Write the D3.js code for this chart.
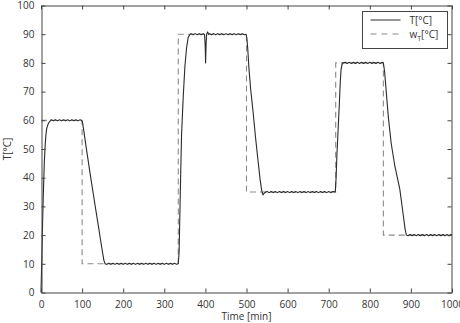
<!DOCTYPE html>
<html>
<head>
<meta charset="utf-8">
<script src="https://cdn.jsdelivr.net/npm/d3@7"></script>
<style>
  body { margin: 0; background: #fff; }
  svg { font-family: "Open Sans", "DejaVu Sans", sans-serif; }
</style>
</head>
<body>
<div id="chart"></div>
<script>
// x ticks / y ticks
var xTicks = [0, 100, 200, 300, 400, 500, 600, 700, 800, 900, 1000];
var yTicks = [0, 10, 20, 30, 40, 50, 60, 70, 80, 90, 100];

// measured temperature T [°C], [time, value]
var tempT = [
  [0, 0], [2, 12], [4, 25], [6, 36], [8, 45], [10, 51], [12, 55], [14, 57.2], [17, 58.6], [20, 59.4], [23, 59.9],
  [25, 60.2], [30, 59.8], [35, 60.2], [40, 59.8], [45, 60.2], [50, 59.8], [55, 60.2], [60, 59.8], [65, 60.2],
  [70, 59.8], [75, 60.2], [80, 59.8], [85, 60.2], [90, 59.8], [95, 60.2], [99, 59.9],
  [101, 59.3], [104, 56.5], [110, 50.5], [120, 41], [130, 31.8], [140, 22.8], [148, 15.5], [153, 11.2], [156, 10],
  [160, 9.8], [165, 10.2], [170, 9.8], [175, 10.2], [180, 9.8], [185, 10.2], [190, 9.8], [195, 10.2], [200, 9.8],
  [205, 10.2], [210, 9.8], [215, 10.2], [220, 9.8], [225, 10.2], [230, 9.8], [235, 10.2], [240, 9.8], [245, 10.2],
  [250, 9.8], [255, 10.2], [260, 9.8], [265, 10.2], [270, 9.8], [275, 10.2], [280, 9.8], [285, 10.2], [290, 9.8],
  [295, 10.2], [300, 9.8], [305, 10.2], [310, 9.8], [315, 10.2], [320, 9.8], [325, 10.2], [330, 9.8], [334, 10.1],
  [336, 14], [338, 28], [340, 42], [342, 55], [346, 68], [350, 78.5], [354, 85], [358, 88.8], [362, 89.8],
  [365, 90.2], [370, 89.8], [375, 90.2], [380, 89.8], [385, 90.2], [390, 89.8], [395, 90.2], [398, 89.8],
  [399.5, 86], [400.5, 80], [401.8, 87], [403, 90], [405.5, 90.8], [408, 90],
  [410, 90.2], [415, 89.8], [420, 90.2], [425, 89.8], [430, 90.2], [435, 89.8], [440, 90.2], [445, 89.8],
  [450, 90.2], [455, 89.8], [460, 90.2], [465, 89.8], [470, 90.2], [475, 89.8], [480, 90.2], [485, 89.8],
  [490, 90.2], [495, 89.8], [499, 90],
  [501, 88.5], [503, 85], [506, 78], [510, 71], [516, 63], [522, 54], [528, 46], [533, 39.5], [537, 35.5],
  [540, 34], [543, 34.6], [547, 35],
  [550, 35.2], [555, 34.8], [560, 35.2], [565, 34.8], [570, 35.2], [575, 34.8], [580, 35.2], [585, 34.8],
  [590, 35.2], [595, 34.8], [600, 35.2], [605, 34.8], [610, 35.2], [615, 34.8], [620, 35.2], [625, 34.8],
  [630, 35.2], [635, 34.8], [640, 35.2], [645, 34.8], [650, 35.2], [655, 34.8], [660, 35.2], [665, 34.8],
  [670, 35.2], [675, 34.8], [680, 35.2], [685, 34.8], [690, 35.2], [695, 34.8], [700, 35.2], [705, 34.8],
  [710, 35.2], [716, 35],
  [718, 40], [720, 48], [722, 54], [724, 60], [726, 66], [728, 73], [730, 77.5], [732, 79.3], [735, 80],
  [740, 80.2], [745, 79.8], [750, 80.2], [755, 79.8], [760, 80.2], [765, 79.8], [770, 80.2], [775, 79.8],
  [780, 80.2], [785, 79.8], [790, 80.2], [795, 79.8], [800, 80.2], [805, 79.8], [810, 80.2], [815, 79.8],
  [820, 80.2], [825, 79.8], [830, 80.2], [833, 80],
  [836, 77], [840, 70], [845, 61.3], [852, 52], [861, 44], [867, 40], [873, 36], [880, 28.5], [886, 22], [889, 20],
  [893, 19.8], [898, 20.2], [903, 19.8], [908, 20.2], [913, 19.8], [918, 20.2], [923, 19.8], [928, 20.2],
  [933, 19.8], [938, 20.2], [943, 19.8], [948, 20.2], [953, 19.8], [958, 20.2], [963, 19.8], [968, 20.2],
  [973, 19.8], [978, 20.2], [983, 19.8], [988, 20.2], [993, 19.8], [998, 20.2], [1000, 20]
];

// set point w_T [°C]
var setW = [
  [0, 60], [100, 60], [100, 10], [334, 10], [334, 90], [500, 90], [500, 35],
  [717, 35], [717, 80], [833, 80], [833, 20], [1000, 20]
];

var width = 460, height = 323;
var margin = { top: 5, right: 8, bottom: 30, left: 41 };
var axisColor = "#444";
var textColor = "#333";

var svg = d3.select("#chart").append("svg")
  .attr("width", width)
  .attr("height", height);

var x = d3.scaleLinear().domain([0, 1000]).range([margin.left, width - margin.right]);
var y = d3.scaleLinear().domain([0, 100]).range([height - margin.bottom - 0.5, margin.top + 0.5]);

var line = d3.line()
  .x(function (d) { return x(d[0]); })
  .y(function (d) { return y(d[1]); });

// dashed set point
svg.append("path")
  .datum(setW)
  .attr("fill", "none")
  .attr("stroke", "#8a8a8a")
  .attr("stroke-width", 1.1)
  .attr("stroke-dasharray", "6,4")
  .attr("d", line);

// measured
svg.append("path")
  .datum(tempT)
  .attr("fill", "none")
  .attr("stroke", "#2a2a2a")
  .attr("stroke-width", 1.1)
  .attr("stroke-linejoin", "round")
  .attr("d", line);

// axes: ticks inside on all four sides
var tickLen = 4;
var noLabel = function () { return ""; };
var axBottom = d3.axisBottom(x).tickValues(xTicks).tickSizeInner(-tickLen).tickSizeOuter(0).tickPadding(8).tickFormat(d3.format("d"));
var axTop = d3.axisTop(x).tickValues(xTicks).tickSizeInner(-tickLen).tickSizeOuter(0).tickFormat(noLabel);
var axLeft = d3.axisLeft(y).tickValues(yTicks).tickSizeInner(-tickLen).tickSizeOuter(0).tickPadding(7).tickFormat(d3.format("d"));
var axRight = d3.axisRight(y).tickValues(yTicks).tickSizeInner(-tickLen).tickSizeOuter(0).tickFormat(noLabel);

var plotBottom = height - margin.bottom;
var gb = svg.append("g").attr("transform", "translate(0," + (plotBottom - 0.5) + ")").call(axBottom);
var gt = svg.append("g").attr("transform", "translate(0," + (margin.top + 0.5) + ")").call(axTop);
var gl = svg.append("g").attr("transform", "translate(" + (margin.left + 0.5) + ",0)").call(axLeft);
var gr = svg.append("g").attr("transform", "translate(" + (width - margin.right - 0.5) + ",0)").call(axRight);

[gb, gt, gl, gr].forEach(function (g) {
  g.selectAll(".domain").attr("stroke", axisColor);
  g.selectAll(".tick line").attr("stroke", axisColor);
  g.selectAll(".tick text")
    .attr("fill", textColor)
    .style("font-size", "10px")
    .style("font-family", '"Open Sans", sans-serif');
});

// axis labels
svg.append("text")
  .attr("x", (x(0) + x(1000)) / 2)
  .attr("y", 320)
  .attr("text-anchor", "middle")
  .attr("fill", textColor)
  .style("font-size", "10px")
  .text("Time [min]");

svg.append("text")
  .attr("transform", "translate(11," + ((y(0) + y(100)) / 2) + ")rotate(-90)")
  .attr("text-anchor", "middle")
  .attr("fill", textColor)
  .style("font-size", "10px")
  .text("T[°C]");

// legend
var legend = svg.append("g").attr("transform", "translate(362.5,11.5)");
legend.append("rect")
  .attr("width", 85)
  .attr("height", 37)
  .attr("fill", "#fff")
  .attr("stroke", axisColor);

legend.append("line")
  .attr("x1", 8).attr("x2", 38).attr("y1", 8.5).attr("y2", 8.5)
  .attr("stroke", "#2a2a2a");
legend.append("text")
  .attr("x", 47).attr("y", 12)
  .attr("fill", textColor)
  .style("font-size", "10px")
  .text("T[°C]");

legend.append("line")
  .attr("x1", 8).attr("x2", 38).attr("y1", 22.5).attr("y2", 22.5)
  .attr("stroke", "#8a8a8a")
  .attr("stroke-width", 1.1)
  .attr("stroke-dasharray", "6,5");
var wt = legend.append("text")
  .attr("x", 47).attr("y", 26)
  .attr("fill", textColor)
  .style("font-size", "10px");
wt.append("tspan").text("w");
wt.append("tspan").attr("dy", 3).style("font-size", "7px").text("T");
wt.append("tspan").attr("dy", -3).text("[°C]");
</script>
</body>
</html>
